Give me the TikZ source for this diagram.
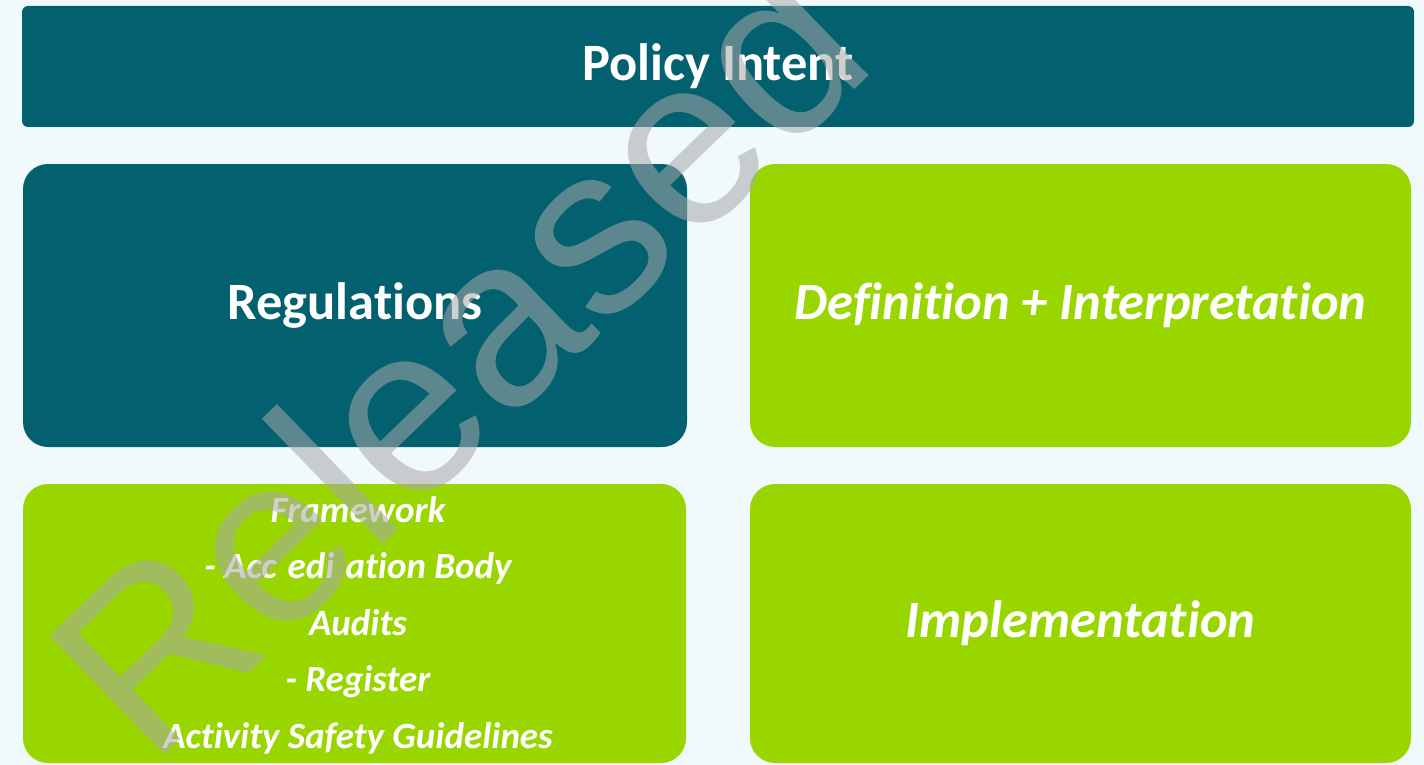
\documentclass[tikz,border=0pt]{standalone}
\usepackage{fontspec}
\setmainfont{Carlito}[Ligatures={NoCommon,NoContextual}]
\newfontfamily\wmfont{Liberation Sans}
\definecolor{bgc}{RGB}{240,250,253}
\definecolor{teal}{RGB}{3,96,111}
\definecolor{lime}{RGB}{153,214,0}
\definecolor{wm}{RGB}{168,168,168}
\begin{document}
\begin{tikzpicture}[x=1pt,y=-1pt,
  box/.style={inner sep=0pt, rounded corners=25pt, text=white, font=\bfseries, align=center},
  tealbox/.style={box, fill=teal},
  limebox/.style={box, fill=lime},
  big/.style={font=\fontsize{52.5}{60}\selectfont\bfseries},
  bigit/.style={font=\fontsize{52.5}{60}\selectfont\bfseries\itshape},
  listtxt/.style={font=\fontsize{37}{56.5}\selectfont\bfseries\itshape, align=center, text=white}
]
\useasboundingbox (0,0) rectangle (1424,765);
\fill[bgc] (0,0) rectangle (1424,765);

\node[tealbox, rounded corners=6pt, minimum width=1392pt, minimum height=121pt] (policy) at (718,66.5) {};
\node[big, text=white] (policyt) at (policy.center) {Policy Intent};

\node[tealbox, minimum width=664pt, minimum height=283pt] (reg) at (355,305.5) {};
\node[big, text=white] (regt) at (reg.center) {Regulations};

\node[limebox, minimum width=661pt, minimum height=283pt] (def) at (1080.5,305.5) {};
\node[bigit, text=white] (deft) at (def.center) {Definition + Interpretation};

\node[limebox, minimum width=663pt, minimum height=279pt] (frame) at (354.5,623.5) {};
\node[listtxt] (framet) at (358,625) {Framework\\- Acc\hspace{0.3em}edi\hspace{0.3em}ation Body\\Audits\\- Register\\Activity Safety Guidelines};

\node[limebox, minimum width=661pt, minimum height=279pt] (impl) at (1080.5,623.5) {};
\node[bigit, text=white] (implt) at (impl.center) {Implementation};

\node[text=wm, opacity=0.55, rotate=44, font=\wmfont\fontsize{240}{240}\selectfont, inner sep=0pt] (wmk) at (456,355) {Released};
\end{tikzpicture}
\end{document}
